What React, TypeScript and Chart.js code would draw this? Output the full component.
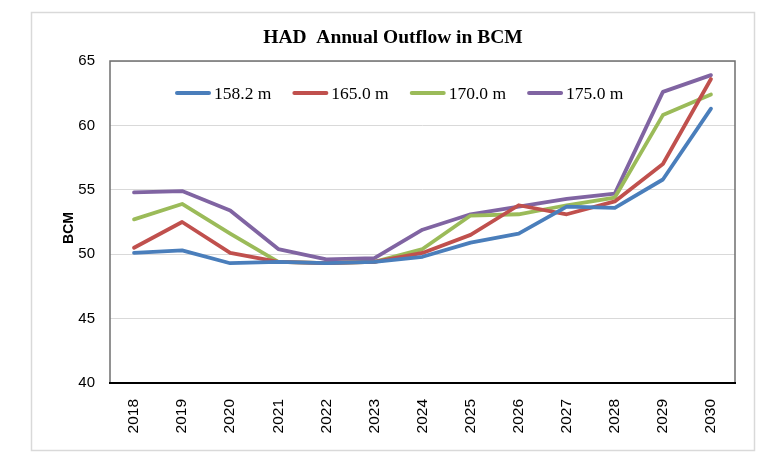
import React, { useEffect, useRef } from "react";
import { Chart, registerables } from "chart.js";

Chart.register(...registerables);

const TITLE = "HAD  Annual Outflow in BCM";
const Y_TITLE = "BCM";
const YEARS = ["2018", "2019", "2020", "2021", "2022", "2023", "2024", "2025", "2026", "2027", "2028", "2029", "2030"];
const SERIES_LABELS = ["158.2 m", "165.0 m", "170.0 m", "175.0 m"];
const S158 = [50.1, 50.3, 49.3, 49.4, 49.3, 49.4, 49.8, 50.9, 51.6, 53.7, 53.6, 55.8, 61.3];
const S165 = [50.5, 52.5, 50.1, 49.4, 49.3, 49.4, 50.1, 51.5, 53.8, 53.1, 54.1, 57.0, 63.6];
const S170 = [52.7, 53.9, 51.6, 49.4, 49.3, 49.4, 50.4, 53.0, 53.1, 53.8, 54.4, 60.8, 62.4];
const S175 = [54.8, 54.9, 53.4, 50.4, 49.6, 49.7, 51.9, 53.1, 53.7, 54.3, 54.7, 62.6, 63.9];
const Y_MIN = 40;
const Y_MAX = 65;
const Y_STEP = 5;

const COLORS = ["#4A7EBB", "#C0504D", "#9BBB59", "#8064A2"];

const decorPlugin = {
  id: "decor",
  beforeDraw(chart: any) {
    const ctx = chart.ctx;
    ctx.save();
    ctx.fillStyle = "#ffffff";
    ctx.fillRect(0, 0, chart.width, chart.height);
    ctx.strokeStyle = "#d9d9d9";
    ctx.lineWidth = 1.5;
    ctx.strokeRect(31.5, 12.5, 723, 438);
    ctx.restore();
  },
  beforeDatasetsDraw(chart: any) {
    const ctx = chart.ctx;
    const a = chart.chartArea;
    ctx.save();
    ctx.strokeStyle = "#6f6f6f";
    ctx.lineWidth = 1.5;
    ctx.beginPath();
    ctx.moveTo(a.left, a.bottom);
    ctx.lineTo(a.left, a.top);
    ctx.lineTo(a.right, a.top);
    ctx.lineTo(a.right, a.bottom);
    ctx.stroke();
    ctx.strokeStyle = "#000000";
    ctx.lineWidth = 2;
    ctx.beginPath();
    ctx.moveTo(a.left - 1, a.bottom);
    ctx.lineTo(a.right + 1, a.bottom);
    ctx.stroke();
    ctx.restore();
  },
  afterDraw(chart: any) {
    const ctx = chart.ctx;
    ctx.save();
    // title
    ctx.fillStyle = "#000000";
    ctx.font = "bold 19.5px 'Liberation Serif'";
    ctx.textAlign = "center";
    ctx.textBaseline = "middle";
    ctx.fillText(TITLE, 393, 38);
    // y title
    ctx.save();
    ctx.translate(69, 228);
    ctx.rotate(-Math.PI / 2);
    ctx.font = "bold 14px 'Liberation Sans'";
    ctx.fillText(Y_TITLE, 0, 0);
    ctx.restore();
    // legend
    ctx.font = "17.5px 'Liberation Serif'";
    ctx.textAlign = "left";
    let x = 177;
    const y = 93;
    chart.data.datasets.forEach((ds: any) => {
      ctx.strokeStyle = ds.borderColor;
      ctx.lineWidth = 4;
      ctx.lineCap = "round";
      ctx.beginPath();
      ctx.moveTo(x, y);
      ctx.lineTo(x + 32, y);
      ctx.stroke();
      ctx.fillStyle = "#000000";
      ctx.fillText(ds.label, x + 37, y + 1);
      x += 37 + ctx.measureText(ds.label).width + 23;
    });
    ctx.restore();
  },
};

export default function App() {
  const ref = useRef<HTMLCanvasElement>(null);
  useEffect(() => {
    if (!ref.current) return;
    const all = [S158, S165, S170, S175];
    const chart = new Chart(ref.current, {
      type: "line",
      data: {
        labels: YEARS,
        datasets: all.map((d, i) => ({
          label: SERIES_LABELS[i],
          data: d,
          borderColor: COLORS[i],
          backgroundColor: COLORS[i],
          borderWidth: 3.8,
          pointRadius: 0,
          tension: 0,
          borderJoinStyle: "round" as const,
          borderCapStyle: "round" as const,
        })),
      },
      options: {
        animation: false,
        responsive: false,
        maintainAspectRatio: false,
        layout: { padding: { left: 0, right: 43, top: 61, bottom: 0 } },
        plugins: {
          legend: { display: false },
          title: { display: false },
          tooltip: { enabled: false },
        },
        scales: {
          x: {
            offset: true,
            grid: { display: false, drawTicks: false },
            border: { display: false },
            ticks: {
              minRotation: 90,
              maxRotation: 90,
              padding: 16,
              color: "#000000",
              font: { family: "'Liberation Sans'", size: 15.5 },
            },
            afterFit(scale: any) {
              scale.height = 73;
            },
          },
          y: {
            min: Y_MIN,
            max: Y_MAX,
            grid: { color: "#d9d9d9", lineWidth: 1, drawTicks: false },
            border: { display: false },
            ticks: {
              stepSize: Y_STEP,
              padding: 15,
              color: "#000000",
              font: { family: "'Liberation Sans'", size: 15 },
            },
            afterFit(scale: any) {
              scale.width = 110;
            },
          },
        },
      },
      plugins: [decorPlugin],
    });
    return () => chart.destroy();
  }, []);
  return (
    <div style={{ position: "fixed", left: 0, top: 0, width: 778, height: 456, background: "#fff" }}>
      <canvas ref={ref} width={778} height={456} style={{ width: 778, height: 456, display: "block" }} />
    </div>
  );
}
